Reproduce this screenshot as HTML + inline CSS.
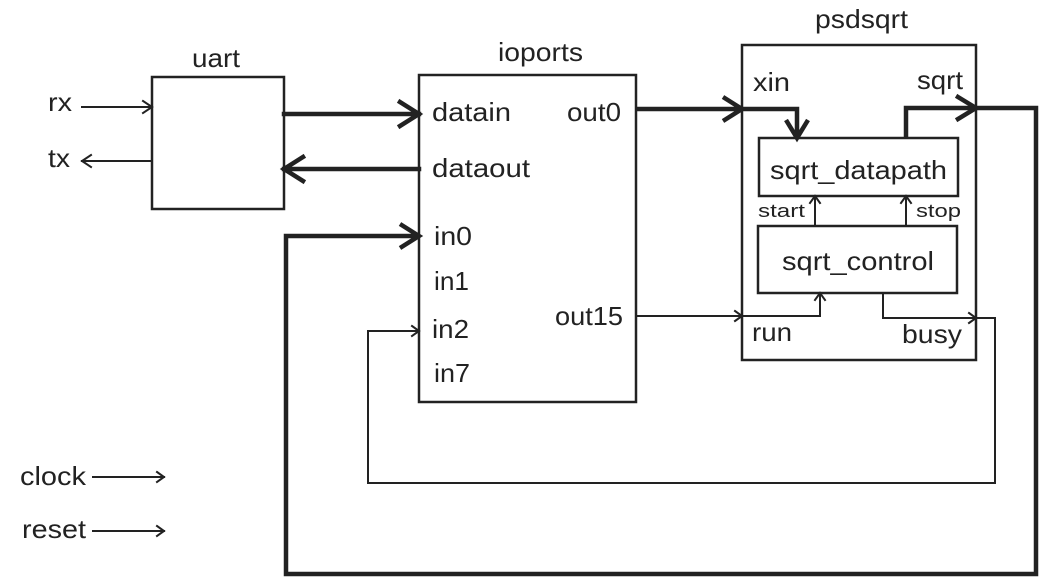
<!DOCTYPE html>
<html><head><meta charset="utf-8"><style>
html,body{margin:0;padding:0;background:#fff;}
svg text{font-family:"Liberation Sans",Arial,sans-serif;font-size:26px;fill:#222;}
</style></head><body>
<svg width="1044" height="580" viewBox="0 0 1044 580" xmlns="http://www.w3.org/2000/svg">
<g fill="none" stroke="#222" stroke-linecap="square">
<rect x="152" y="77" width="132" height="132" stroke-width="2.5"/>
<rect x="419" y="75" width="217" height="327" stroke-width="2.5"/>
<rect x="742" y="45" width="234" height="315" stroke-width="2.5"/>
<rect x="759" y="138" width="199" height="58" stroke-width="2.5"/>
<rect x="758" y="226" width="199" height="67" stroke-width="2.5"/>
<path d="M82 107H152M143 101L152 107L143 113" stroke-width="2"/>
<path d="M82 161H152M91 155L82 161L91 167" stroke-width="2"/>
<path d="M284 114H419M400 102L419 114L400 126" stroke-width="4.5"/>
<path d="M284 169H419M303 157L284 169L303 181" stroke-width="4.5"/>
<path d="M906 138V108H976H1036V574H286V236H419M400 224L419 236L400 248" stroke-width="4.5" stroke-linecap="butt"/>
<path d="M958 97L976 108L958 119" stroke-width="4.5"/>
<path d="M636 109H742H797V138M723 97L742 109L723 121M786 120L797 138L808 120" stroke-width="4.5" stroke-linecap="butt"/>
<path d="M636 316H820V293M735 311L742 316L735 321M815 300L820 293L825 300" stroke-width="2"/>
<path d="M883 293V318H995V483H368V331H419M969 313L976 318L969 323M412 326L419 331L412 336" stroke-width="2"/>
<path d="M815 226V196M810 203L815 196L820 203M906 226V196M901 203L906 196L911 203" stroke-width="2"/>
<path d="M93 477H164M157 472L164 477L157 482" stroke-width="2"/>
<path d="M93 531H164M157 526L164 531L157 536" stroke-width="2"/>
</g>
<text x="192" y="67" textLength="48" lengthAdjust="spacingAndGlyphs">uart</text>
<text x="498" y="61" textLength="85" lengthAdjust="spacingAndGlyphs">ioports</text>
<text x="815" y="28" textLength="93" lengthAdjust="spacingAndGlyphs">psdsqrt</text>
<text x="48" y="111" textLength="24" lengthAdjust="spacingAndGlyphs">rx</text>
<text x="48" y="167" textLength="22" lengthAdjust="spacingAndGlyphs">tx</text>
<text x="432" y="121" textLength="79" lengthAdjust="spacingAndGlyphs">datain</text>
<text x="432" y="177" textLength="98" lengthAdjust="spacingAndGlyphs">dataout</text>
<text x="434" y="245" textLength="38" lengthAdjust="spacingAndGlyphs">in0</text>
<text x="434" y="290" textLength="35" lengthAdjust="spacingAndGlyphs">in1</text>
<text x="432" y="338" textLength="37" lengthAdjust="spacingAndGlyphs">in2</text>
<text x="434" y="382" textLength="36" lengthAdjust="spacingAndGlyphs">in7</text>
<text x="567" y="121" textLength="54" lengthAdjust="spacingAndGlyphs">out0</text>
<text x="555" y="325" textLength="68" lengthAdjust="spacingAndGlyphs">out15</text>
<text x="753" y="91" textLength="37" lengthAdjust="spacingAndGlyphs">xin</text>
<text x="917" y="89" textLength="46" lengthAdjust="spacingAndGlyphs">sqrt</text>
<text x="752" y="341" textLength="40" lengthAdjust="spacingAndGlyphs">run</text>
<text x="902" y="343" textLength="60" lengthAdjust="spacingAndGlyphs">busy</text>
<text x="770" y="179" textLength="177" lengthAdjust="spacingAndGlyphs">sqrt_datapath</text>
<text x="782" y="270" textLength="152" lengthAdjust="spacingAndGlyphs">sqrt_control</text>
<text x="758" y="217" style="font-size:18px" textLength="47" lengthAdjust="spacingAndGlyphs">start</text>
<text x="916" y="217" style="font-size:18px" textLength="45" lengthAdjust="spacingAndGlyphs">stop</text>
<text x="20" y="485" textLength="66" lengthAdjust="spacingAndGlyphs">clock</text>
<text x="22" y="538" textLength="64" lengthAdjust="spacingAndGlyphs">reset</text>
</svg>
</body></html>
